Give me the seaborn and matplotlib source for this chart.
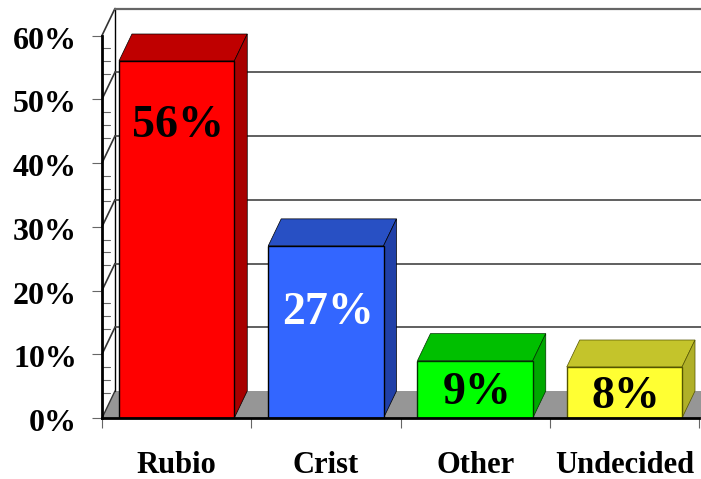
import numpy as np
import matplotlib
matplotlib.use('Agg')
import matplotlib.pyplot as plt
import seaborn as sns
from matplotlib.patches import Polygon
from matplotlib.transforms import ScaledTranslation

categories = ['Rubio', 'Crist', 'Other', 'Undecided']
values = [56, 27, 9, 8]
value_labels = ['56%', '27%', '9%', '8%']
label_colors = ['black', 'white', 'black', 'black']
label_heights = [45.8, 16.5, 3.9, 3.3]
front_colors = ['#FF0000', '#3366FF', '#00FF00', '#FFFF33']
top_colors = ['#BF0000', '#2850C4', '#00BF00', '#C4C42B']
side_colors = ['#A80000', '#2040A8', '#00A800', '#B0B028']
edge_colors = ['black', 'black', '#003300', '#555500']
y_ticks = [0, 10, 20, 30, 40, 50, 60]
y_tick_labels = ['0%', '10%', '20%', '30%', '40%', '50%', '60%']

sns.set_style('white')
plt.rcParams['font.family'] = ['Liberation Serif', 'DejaVu Serif']
plt.rcParams['font.weight'] = 'bold'

fig = plt.figure(figsize=(7.01, 4.79), dpi=100)
ax = fig.add_axes([102 / 701, 61 / 479, 597 / 701, 382.5 / 479])

# depth of the fake 3d box, in data units
dx = 13 / 149.5
dy = 27 / 6.375
bar_width = 115.5 / 149.5

sns.barplot(x=categories, y=values, hue=categories, palette=front_colors, legend=False,
            width=bar_width, saturation=1, ax=ax, zorder=5)
bars = list(ax.patches)
ax.set_xlim(-0.5, 3.5)
ax.set_ylim(0, 60)
ax.set_xlabel('')
ax.set_ylabel('')

x0 = -0.5
x1 = 3.515

# floor and back wall
ax.add_patch(Polygon([(x0, 0), (x0 + dx, dy), (x1, dy), (x1, 0)], closed=True,
                     facecolor='#969696', edgecolor='none', zorder=1, clip_on=False))
ax.plot([x0 + dx, x0 + dx], [dy, 60 + dy], color='black', lw=1, zorder=2, clip_on=False)
for v in y_ticks[1:]:
    ax.plot([x0, x0 + dx], [v, v + dy], color='#333333', lw=1.2, zorder=2, clip_on=False)
    ax.plot([x0 + dx, x1], [v + dy, v + dy], color='#444444' if v < 60 else '#666666',
            lw=1.2 if v < 60 else 1.6, zorder=2, clip_on=False)
ax.plot([x0, x0 + dx], [0, dy], color='#333333', lw=1, zorder=2, clip_on=False)

# box faces
for i, bar in enumerate(bars):
    left = bar.get_x()
    right = left + bar.get_width()
    top = bar.get_height()
    bar.set_edgecolor(edge_colors[i])
    bar.set_linewidth(1)
    ax.add_patch(Polygon([(left, top), (left + dx, top + dy), (right + dx, top + dy), (right, top)],
                         closed=True, facecolor=top_colors[i], edgecolor=edge_colors[i], lw=0.5,
                         zorder=4, clip_on=False))
    ax.add_patch(Polygon([(right, 0), (right + dx, dy), (right + dx, top + dy), (right, top)],
                         closed=True, facecolor=side_colors[i], edgecolor=edge_colors[i], lw=0.5,
                         zorder=4, clip_on=False))
    ax.text(i + 0.012, label_heights[i], value_labels[i], color=label_colors[i], ha='center',
            va='center', fontsize=33, fontweight='bold', zorder=6)

# ticks
ax.set_yticks(y_ticks)
ax.set_yticklabels(y_tick_labels, fontsize=23, fontweight='bold', color='black')
ax.set_xticks(range(4))
ax.set_xticklabels(categories, fontsize=22, fontweight='bold', color='black')
ax.set_xticks([-0.5, 0.5, 1.5, 2.5, 3.5], minor=True)
ax.tick_params(axis='x', which='major', length=0, pad=24)
ax.tick_params(axis='x', which='minor', length=7, width=0.8, color='#666666', bottom=True)
ax.tick_params(axis='y', which='major', length=7, width=0.8, color='#666666', left=True, pad=11)
for v in y_ticks[:-1]:
    for m in [4, 6, 8]:
        ax.plot([x0, x0 + 0.055], [v + m, v + m], color='#666666', lw=0.8, zorder=2)

# y labels sit a little below their ticks
shift = ScaledTranslation(0, -2 / 100, fig.dpi_scale_trans)
for label in ax.get_yticklabels():
    label.set_transform(label.get_transform() + shift)

for name in ['top', 'right']:
    ax.spines[name].set_visible(False)
for name in ['left', 'bottom']:
    ax.spines[name].set_linewidth(2)
    ax.spines[name].set_color('black')
    ax.spines[name].set_zorder(7)

fig.savefig('out.png', dpi=100)
